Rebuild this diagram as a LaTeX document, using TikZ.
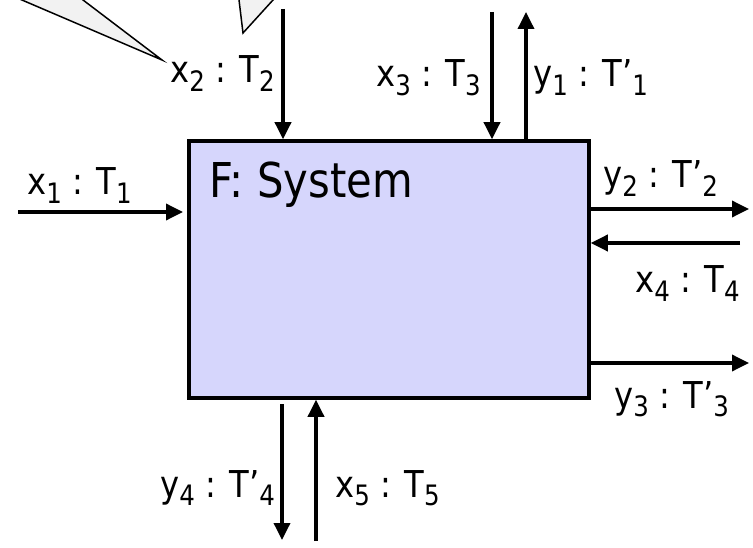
\documentclass[tikz,border=0pt]{standalone}
\usepackage{fontspec}
\setmainfont{DejaVu Sans}[FakeStretch=0.87]
\usetikzlibrary{arrows.meta}
\newcommand\lsub[1]{\raisebox{-0.24em}{\scalebox{0.76}{#1}}}
\newcommand\lbl[3]{#1\lsub{#2} : #3}
\definecolor{boxfill}{RGB}{214,214,252}
\definecolor{tailfill}{RGB}{242,242,242}
\tikzset{
  arr/.style={line width=3.5pt,-{Triangle[length=17pt,width=16pt]}},
  lab/.style={anchor=base west,inner sep=0pt,font=\fontsize{37}{40}\selectfont},
  sysbox/.style={draw,line width=3.5pt,fill=boxfill,inner sep=0pt,outer sep=0pt,minimum width=400pt,minimum height=257pt},
  tail/.style={draw,line width=1.5pt,fill=tailfill,line join=miter}
}
\begin{document}
\begin{tikzpicture}[x=1pt,y=-1pt]
\useasboundingbox (0,0) rectangle (753,548);
% callout tails
\draw[tail] (-24.7,-20) -- (162,60) -- (56.7,-20);
\draw[tail] (236.6,-20) -- (243,33) -- (291.2,-20);
% system box
\node[sysbox] (F) at (389,269.5) {};
\node[anchor=base west,inner sep=0pt,font=\fontsize{48}{52}\selectfont] (title) at (209,198) {F: System};
% free ends
\coordinate (x1s) at (18,212);
\coordinate (x2s) at (283,9);
\coordinate (x3s) at (492,12);
\coordinate (y1e) at (526,12);
\coordinate (y2e) at (749,209);
\coordinate (x4s) at (740,243);
\coordinate (y3e) at (749,363);
\coordinate (y4s) at (282,404);
\coordinate (y4e) at (282,540);
\coordinate (x5s) at (316,541);
% arrows
\draw[arr] (x1s) -- ([xshift=-6pt]x1s -| F.west);
\draw[arr] (x2s) -- ([yshift=1.75pt]x2s |- F.north);
\draw[arr] (x3s) -- ([yshift=1.75pt]x3s |- F.north);
\draw[arr] (y1e |- F.north) -- (y1e);
\draw[arr] (y2e -| F.east) -- (y2e);
\draw[arr] (x4s) -- ([xshift=1.75pt]x4s -| F.east);
\draw[arr] (y3e -| F.east) -- (y3e);
\draw[arr] (y4s) -- (y4e);
\draw[arr] (x5s) -- ([yshift=-1.75pt]x5s |- F.south);
% labels
\node[lab] (lx1) at (27,195) {\lbl{x}{1}{T\lsub{1}}};
\node[lab] (lx2) at (170,83) {\lbl{x}{2}{T\lsub{2}}};
\node[lab] (lx3) at (376,87) {\lbl{x}{3}{T\lsub{3}}};
\node[lab] (ly1) at (533,87) {\lbl{y}{1}{T’\lsub{1}}};
\node[lab] (ly2) at (603,188) {\lbl{y}{2}{T’\lsub{2}}};
\node[lab] (lx4) at (635,293) {\lbl{x}{4}{T\lsub{4}}};
\node[lab] (ly3) at (614,408) {\lbl{y}{3}{T’\lsub{3}}};
\node[lab] (ly4) at (160,497) {\lbl{y}{4}{T’\lsub{4}}};
\node[lab] (lx5) at (335,497) {\lbl{x}{5}{T\lsub{5}}};
\end{tikzpicture}
\end{document}
